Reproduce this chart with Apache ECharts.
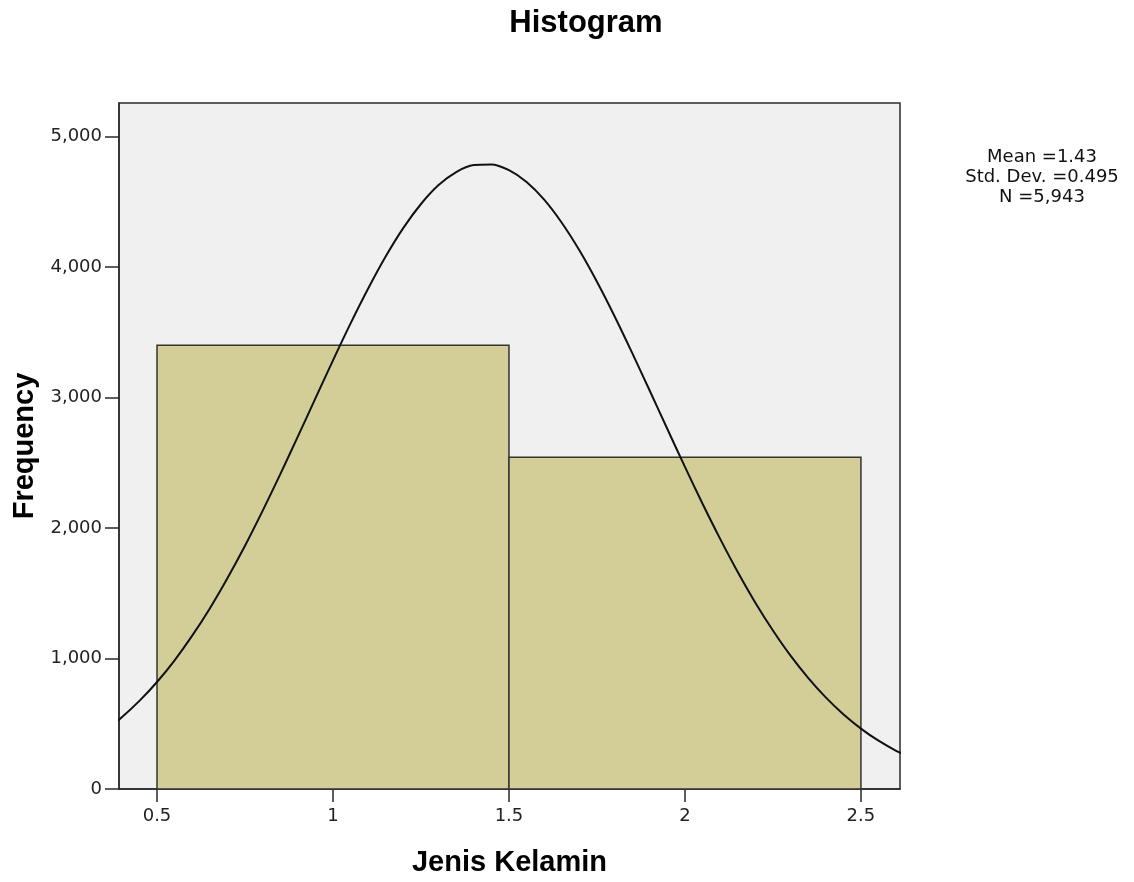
<!DOCTYPE html>
<html>
<head>
<meta charset="utf-8">
<script src="https://cdn.jsdelivr.net/npm/echarts@6/dist/echarts.min.js"></script>
<style>html,body{margin:0;padding:0;background:#fff;}#c{width:1134px;height:882px;}</style>
</head>
<body>
<div id="c"></div>
<script>
// Histogram bins: [start, end, frequency]
const binStarts = [0.5, 1.5];
const binEnds = [1.5, 2.5];
const binCounts = [3400, 2543];
// Normal curve values
const curveX = [0.3, 0.35, 0.4, 0.45, 0.5, 0.55, 0.6, 0.65, 0.7, 0.75, 0.8, 0.85, 0.9, 0.95, 1.0, 1.05, 1.1, 1.15, 1.2, 1.25, 1.3, 1.35, 1.4, 1.45, 1.5, 1.55, 1.6, 1.65, 1.7, 1.75, 1.8, 1.85, 1.9, 1.95, 2.0, 2.05, 2.1, 2.15, 2.2, 2.25, 2.3, 2.35, 2.4, 2.45, 2.5, 2.55, 2.6, 2.65, 2.7];
const curveY = [354, 443, 550, 675, 820, 986, 1175, 1384, 1615, 1864, 2131, 2411, 2700, 2993, 3285, 3568, 3835, 4082, 4300, 4483, 4628, 4728, 4781, 4786, 4742, 4651, 4516, 4339, 4128, 3887, 3623, 3342, 3052, 2759, 2468, 2186, 1917, 1663, 1428, 1215, 1022, 852, 702, 573, 463, 370, 293, 230, 178];
const xTicks = [0.5, 1, 1.5, 2, 2.5];
const statsLines = ['Mean =1.43', 'Std. Dev. =0.495', 'N =5,943'];

const chart = echarts.init(document.getElementById('c'));
const boldFont = 'Liberation Sans, Arial, sans-serif';
const smallFont = 'DejaVu Sans, sans-serif';
const barData = binStarts.map((s, i) => [s, binEnds[i], binCounts[i]]);
const lineData = curveX.map((x, i) => [x, curveY[i]]);

const graphics = [{
  type: 'text', x: 586, y: 23,
  style: { text: 'Histogram', fontFamily: boldFont, fontWeight: 'bold', fontSize: 31,
    fill: '#000', align: 'center', verticalAlign: 'middle' }
}];
statsLines.forEach((t, i) => {
  graphics.push({
    type: 'text', x: 1042, y: 157 + i * 20,
    style: { text: t, fontFamily: smallFont, fontSize: 18, fill: '#111', align: 'center', verticalAlign: 'middle' }
  });
});

chart.setOption({
  animation: false,
  backgroundColor: '#ffffff',
  graphic: graphics,
  grid: {
    left: 119, right: 234, top: 103, bottom: 90,
    show: true, backgroundColor: '#f0f0f0', borderColor: '#2a2a2a', borderWidth: 1.5
  },
  xAxis: {
    type: 'value', min: 0.392, max: 2.611,
    name: 'Jenis Kelamin', nameLocation: 'middle', nameGap: 59,
    nameTextStyle: { fontFamily: boldFont, fontWeight: 'bold', fontSize: 29, color: '#000' },
    axisLine: { show: true, lineStyle: { color: '#2a2a2a', width: 1.5 } },
    axisTick: { show: true, inside: false, length: 13, customValues: xTicks, lineStyle: { color: '#2a2a2a', width: 1.5 } },
    axisLabel: { customValues: xTicks, fontFamily: smallFont, fontSize: 18, color: '#222', margin: 18,
      formatter: v => String(v) },
    splitLine: { show: false }
  },
  yAxis: {
    type: 'value', min: 0, max: 5257, interval: 1000,
    name: 'Frequency', nameLocation: 'middle', nameGap: 80,
    nameTextStyle: { fontFamily: boldFont, fontWeight: 'bold', fontSize: 29, color: '#000' },
    axisLine: { show: true, lineStyle: { color: '#2a2a2a', width: 1.5 } },
    axisTick: { show: true, inside: false, length: 14, lineStyle: { color: '#2a2a2a', width: 1.5 } },
    axisLabel: { fontFamily: smallFont, fontSize: 18, color: '#222', margin: 17, showMaxLabel: false,
      formatter: v => v.toLocaleString('en-US') },
    splitLine: { show: false }
  },
  series: [{
    type: 'custom',
    data: barData,
    encode: { x: [0, 1], y: 2 },
    renderItem: (params, api) => {
      const p0 = api.coord([api.value(0), api.value(2)]);
      const p1 = api.coord([api.value(1), 0]);
      return {
        type: 'rect',
        shape: { x: p0[0], y: p0[1], width: p1[0] - p0[0], height: p1[1] - p0[1] },
        style: { fill: '#d3ce98', stroke: '#333', lineWidth: 1.5 }
      };
    },
    z: 2
  }, {
    type: 'line', data: lineData, smooth: 0.3, showSymbol: false, clip: true,
    lineStyle: { color: '#111', width: 2 }, z: 3
  }]
});
</script>
</body>
</html>
